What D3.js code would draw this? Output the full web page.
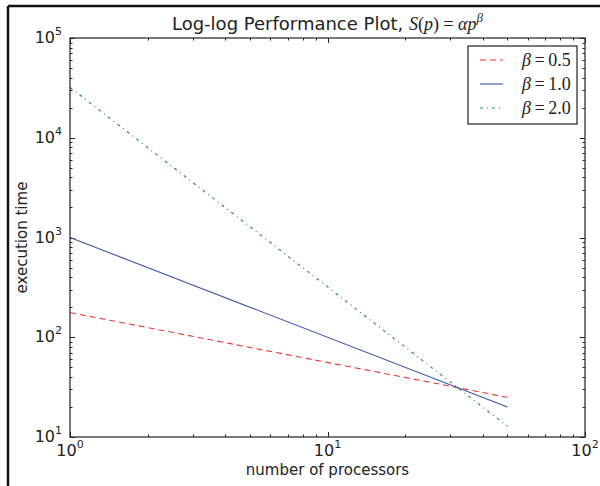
<!DOCTYPE html>
<html>
<head>
<meta charset="utf-8">
<script src="https://cdn.jsdelivr.net/npm/d3@7"></script>
<style>
  body { margin: 0; background: #fff; }
  svg { display: block; font-family: "DejaVu Sans", sans-serif; }
</style>
</head>
<body>
<div id="chart"></div>
<script>
// data
const processors = [1, 50];
const timeBeta05 = [176.8, 25];
const timeBeta10 = [1000, 20];
const timeBeta20 = [32000, 12.8];
const seriesNames = ["0.5", "1.0", "2.0"];
const xTickExps = [0, 1, 2];
const yTickExps = [1, 2, 3, 4, 5];

const width = 600, height = 486;
const margin = { top: 38, right: 15, bottom: 49, left: 70 };

const svg = d3.select("#chart").append("svg")
    .attr("width", width)
    .attr("height", height);

// outer frame (left + top only, the picture is cropped)
svg.append("line").attr("x1", 8).attr("x2", 8).attr("y1", 6).attr("y2", height)
    .attr("stroke", "#111").attr("stroke-width", 2.5);
svg.append("line").attr("x1", 8).attr("x2", width).attr("y1", 6).attr("y2", 6)
    .attr("stroke", "#111").attr("stroke-width", 2.5);

const x = d3.scaleLog().domain([1, 100]).range([margin.left, width - margin.right]);
const y = d3.scaleLog().domain([10, 1e5]).range([height - margin.bottom, margin.top]);

// minor tick values
function minors(lo, hi) {
    const out = [];
    for (let e = lo; e < hi; e++)
        for (let m = 2; m <= 9; m++) out.push(m * Math.pow(10, e));
    return out;
}
const xMajor = xTickExps.map(e => Math.pow(10, e));
const yMajor = yTickExps.map(e => Math.pow(10, e));
const xMinor = minors(0, 2);
const yMinor = minors(1, 5);

const ticks = svg.append("g").attr("stroke", "#222").attr("stroke-width", 1);
const x0 = x.range()[0], x1 = x.range()[1], y0 = y.range()[0], y1 = y.range()[1];

function vTicks(vals, len) {
    ticks.selectAll(null).data(vals).join("line")
        .attr("x1", d => Math.round(x(d)) + 0.5).attr("x2", d => Math.round(x(d)) + 0.5)
        .attr("y1", y0).attr("y2", y0 - len);
    ticks.selectAll(null).data(vals).join("line")
        .attr("x1", d => Math.round(x(d)) + 0.5).attr("x2", d => Math.round(x(d)) + 0.5)
        .attr("y1", y1).attr("y2", y1 + len);
}
function hTicks(vals, len) {
    ticks.selectAll(null).data(vals).join("line")
        .attr("y1", d => Math.round(y(d)) + 0.5).attr("y2", d => Math.round(y(d)) + 0.5)
        .attr("x1", x0).attr("x2", x0 + len);
    ticks.selectAll(null).data(vals).join("line")
        .attr("y1", d => Math.round(y(d)) + 0.5).attr("y2", d => Math.round(y(d)) + 0.5)
        .attr("x1", x1).attr("x2", x1 - len);
}
vTicks(xMajor, 5); vTicks(xMinor, 2.5);
hTicks(yMajor, 5); hTicks(yMinor, 2.5);

// series
const line = d3.line().x(d => x(d[0])).y(d => y(d[1]));
const series = [
    { name: seriesNames[0], values: timeBeta05, color: "#f03535", dash: "6,4" },
    { name: seriesNames[1], values: timeBeta10, color: "#3a55aa", dash: null },
    { name: seriesNames[2], values: timeBeta20, color: "#24895a", dash: "3,4,1,4" }
];
svg.append("g").attr("fill", "none").attr("stroke-width", 1.1)
    .selectAll("path").data(series).join("path")
    .attr("stroke", d => d.color)
    .attr("stroke-dasharray", d => d.dash)
    .attr("d", d => line(processors.map((p, i) => [p, d.values[i]])));

// plot frame
svg.append("rect")
    .attr("x", x0).attr("y", y1).attr("width", x1 - x0).attr("height", y0 - y1)
    .attr("fill", "none").attr("stroke", "#222").attr("stroke-width", 1.2);

// tick labels: 10 with superscript
function powLabel(g, exp) {
    g.append("tspan").text("10");
    g.append("tspan").attr("dy", -8).attr("font-size", 11).text(exp);
}
svg.append("g").selectAll("text").data(xTickExps).join("text")
    .attr("x", d => x(Math.pow(10, d)))
    .attr("y", y0 + 19)
    .attr("text-anchor", "middle")
    .attr("font-size", 16)
    .attr("fill", "#222")
    .each(function (d) { powLabel(d3.select(this), d); });
svg.append("g").selectAll("text").data(yTickExps).join("text")
    .attr("x", x0 - 8)
    .attr("y", d => y(Math.pow(10, d)) + 5)
    .attr("text-anchor", "end")
    .attr("font-size", 16)
    .attr("fill", "#222")
    .each(function (d) { powLabel(d3.select(this), d); });

// axis labels
svg.append("text")
    .attr("x", (x0 + x1) / 2).attr("y", 475)
    .attr("text-anchor", "middle").attr("font-size", 15).attr("fill", "#222")
    .text("number of processors");
svg.append("text")
    .attr("transform", `translate(27,${(y0 + y1) / 2}) rotate(-90)`)
    .attr("text-anchor", "middle").attr("font-size", 15).attr("fill", "#222")
    .text("execution time");

// title
const title = svg.append("text")
    .attr("x", (x0 + x1) / 2).attr("y", 30)
    .attr("text-anchor", "middle").attr("font-size", 18).attr("fill", "#222");
title.append("tspan").text("Log-log Performance Plot, ");
const mathFont = "'Liberation Serif', 'DejaVu Serif', serif";
const m = (t, italic, size) => title.append("tspan")
    .attr("font-family", mathFont)
    .attr("font-style", italic ? "italic" : "normal")
    .attr("font-size", size || 18).text(t);
m("S", true); m("(", false); m("p", true); m(")", false);
m(" = ", false); m("αp", true);
m("β", true, 13).attr("dy", -8);

// legend
const lg = svg.append("g").attr("transform", "translate(468,46)");
lg.append("rect").attr("width", 109).attr("height", 78)
    .attr("fill", "#fff").attr("stroke", "#222").attr("stroke-width", 1.2);
const rows = lg.selectAll("g").data(series).join("g")
    .attr("transform", (d, i) => `translate(0,${14 + i * 24})`);
rows.append("line")
    .attr("x1", 12).attr("x2", 35).attr("y1", 0).attr("y2", 0)
    .attr("stroke", d => d.color).attr("stroke-width", 1.1)
    .attr("stroke-dasharray", d => d.dash);
const lt = rows.append("text")
    .attr("x", 54).attr("y", 6)
    .attr("font-family", mathFont)
    .attr("font-size", 18).attr("fill", "#222");
lt.append("tspan").attr("font-style", "italic").text("β");
lt.append("tspan").text(d => "\u2009=\u2009" + d.name);
</script>
</body>
</html>
